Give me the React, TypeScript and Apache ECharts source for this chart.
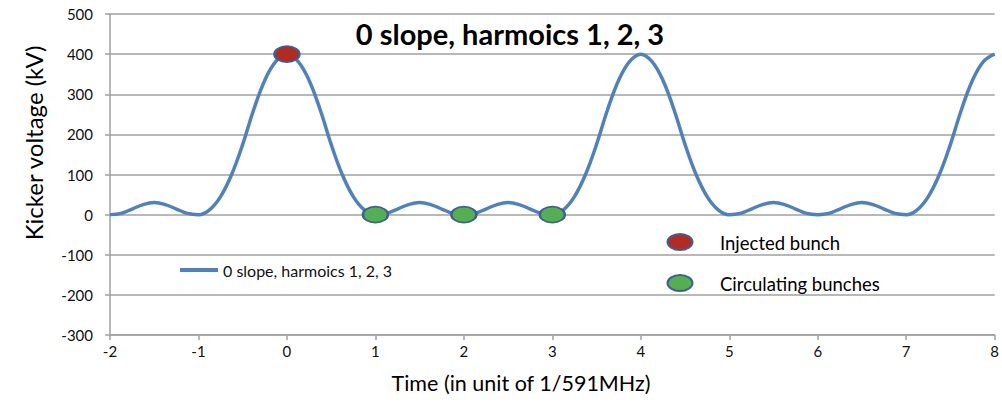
import React, { useEffect, useRef } from "react";
import * as echarts from "echarts";

const times = [
  -2, -1.875, -1.75, -1.625, -1.5, -1.375, -1.25, -1.125,
  -1, -0.875, -0.75, -0.625, -0.5, -0.375, -0.25, -0.125,
  0, 0.125, 0.25, 0.375, 0.5, 0.625, 0.75, 0.875,
  1, 1.125, 1.25, 1.375, 1.5, 1.625, 1.75, 1.875,
  2, 2.125, 2.25, 2.375, 2.5, 2.625, 2.75, 2.875,
  3, 3.125, 3.25, 3.375, 3.5, 3.625, 3.75, 3.875,
  4, 4.125, 4.25, 4.375, 4.5, 4.625, 4.75, 4.875,
  5, 5.125, 5.25, 5.375, 5.5, 5.625, 5.75, 5.875,
  6, 6.125, 6.25, 6.375, 6.5, 6.625, 6.75, 6.875,
  7, 7.125, 7.25, 7.375, 7.5, 7.625, 7.75, 7.875,
  8,
];

const voltage = [
  0, 3, 14, 25, 30, 25, 14, 3,
  0, 12, 45, 100, 175, 262, 335, 382,
  400, 382, 335, 262, 175, 100, 45, 12,
  0, 3, 14, 25, 30, 25, 14, 3,
  0, 3, 14, 25, 30, 25, 14, 3,
  0, 12, 45, 100, 175, 262, 335, 382,
  400, 382, 335, 262, 175, 100, 45, 12,
  0, 3, 14, 25, 30, 25, 14, 3,
  0, 3, 14, 25, 30, 25, 14, 3,
  0, 12, 45, 100, 175, 262, 335, 382,
  400,
];

const injectedTimes = [0];
const injectedVoltage = [400];
const circulatingTimes = [1, 2, 3];
const circulatingVoltage = [0, 0, 0];

const seriesName = "0 slope, harmoics 1, 2, 3";
const titleText = "0 slope, harmoics 1, 2, 3";
const yAxisName = "Kicker voltage (kV)";
const xAxisName = "Time (in unit of 1/591MHz)";
const injectedLabel = "Injected bunch";
const circulatingLabel = "Circulating bunches";

const ELLIPSE = "path://M1,0A1,1,0,1,1,-1,0A1,1,0,1,1,1,0Z";
const FONT = "Lato, 'Open Sans', sans-serif";
const GRID_COLOR = "#a0a0a0";

export default function App() {
  const ref = useRef<HTMLDivElement>(null);

  useEffect(() => {
    if (!ref.current) return;
    const chart = echarts.init(ref.current, null, { renderer: "svg" });
    const lineData = times.map((t, i) => [t, voltage[i]]);
    const injData = injectedTimes.map((t, i) => [t, injectedVoltage[i]]);
    const circData = circulatingTimes.map((t, i) => [t, circulatingVoltage[i]]);

    chart.setOption({
      animation: false,
      backgroundColor: "#ffffff",
      textStyle: { fontFamily: FONT },
      grid: { left: 110, right: 5, top: 14, bottom: 68, containLabel: false },
      title: {
        text: titleText,
        left: 510,
        textAlign: "center",
        top: 19,
        padding: 0,
        textStyle: { fontFamily: FONT, fontSize: 29, fontWeight: "bold", color: "#000" },
      },
      legend: {
        data: [seriesName],
        left: 180,
        top: 262,
        padding: 0,
        icon: "rect",
        itemWidth: 38,
        itemHeight: 4,
        itemGap: 0,
        textStyle: { fontFamily: FONT, fontSize: 16, color: "#111" },
      },
      xAxis: {
        type: "value",
        min: -2,
        max: 8,
        interval: 1,
        axisLine: { show: true, onZero: false, lineStyle: { color: GRID_COLOR, width: 1.5 } },
        axisTick: { show: true, length: 5, lineStyle: { color: GRID_COLOR, width: 1.5 } },
        axisLabel: { color: "#111", fontSize: 15, fontFamily: FONT, margin: 8 },
        splitLine: { show: false },
      },
      yAxis: {
        type: "value",
        min: -300,
        max: 500,
        interval: 100,
        axisLine: { show: true, onZero: false, lineStyle: { color: GRID_COLOR, width: 1.5 } },
        axisTick: { show: true, inside: false, length: 5, lineStyle: { color: GRID_COLOR, width: 1.5 } },
        axisLabel: { color: "#111", fontSize: 15, fontFamily: FONT, margin: 17 },
        splitLine: { show: true, lineStyle: { color: GRID_COLOR, width: 1.5 } },
      },
      graphic: [
        {
          type: "text",
          x: 33,
          y: 143,
          rotation: Math.PI / 2,
          style: {
            text: yAxisName,
            fontFamily: FONT,
            fontSize: 24,
            fill: "#000",
            align: "center",
            verticalAlign: "middle",
          },
        },
        {
          type: "text",
          x: 521,
          y: 383,
          style: {
            text: xAxisName,
            fontFamily: FONT,
            fontSize: 21.5,
            fill: "#000",
            align: "center",
            verticalAlign: "middle",
          },
        },
        {
          type: "ellipse",
          shape: { cx: 680, cy: 242, rx: 12.5, ry: 8 },
          style: { fill: "#b22a20", stroke: "#3f5f93", lineWidth: 2 },
        },
        {
          type: "text",
          x: 720,
          y: 243,
          style: {
            text: injectedLabel,
            fontFamily: FONT,
            fontSize: 18.5,
            fill: "#000",
            align: "left",
            verticalAlign: "middle",
          },
        },
        {
          type: "ellipse",
          shape: { cx: 680, cy: 283, rx: 12.5, ry: 8 },
          style: { fill: "#53b050", stroke: "#3f5f93", lineWidth: 2 },
        },
        {
          type: "text",
          x: 720,
          y: 284,
          style: {
            text: circulatingLabel,
            fontFamily: FONT,
            fontSize: 18.5,
            fill: "#000",
            align: "left",
            verticalAlign: "middle",
          },
        },
      ],
      series: [
        {
          name: seriesName,
          type: "line",
          data: lineData,
          smooth: 0.4,
          showSymbol: false,
          symbol: "none",
          lineStyle: { color: "#4f81bd", width: 3.5 },
          itemStyle: { color: "#4f81bd" },
          z: 2,
        },
        {
          name: injectedLabel,
          type: "scatter",
          data: injData,
          symbol: ELLIPSE,
          symbolSize: [25, 16],
          itemStyle: { color: "#b22a20", borderColor: "#3f5f93", borderWidth: 2, opacity: 1 },
          z: 5,
        },
        {
          name: circulatingLabel,
          type: "scatter",
          data: circData,
          symbol: ELLIPSE,
          symbolSize: [25, 16],
          itemStyle: { color: "#53b050", borderColor: "#3f5f93", borderWidth: 2, opacity: 1 },
          z: 5,
        },
      ],
    });

    return () => chart.dispose();
  }, []);

  return (
    <div
      ref={ref}
      style={{ position: "fixed", left: 0, top: 0, width: 1002, height: 403 }}
    />
  );
}
